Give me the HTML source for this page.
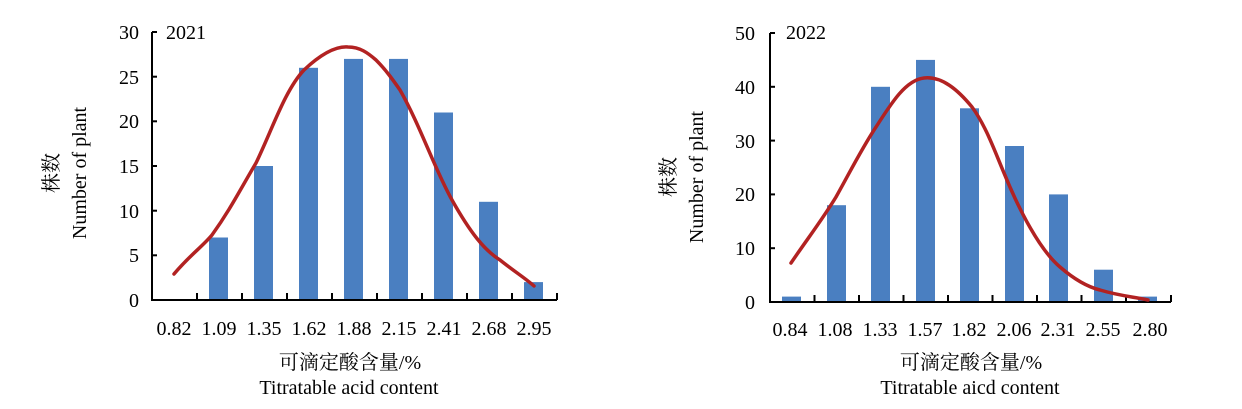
<!DOCTYPE html>
<html><head><meta charset="utf-8"><style>body{margin:0;background:#fff}svg{display:block}</style></head><body>
<svg width="1242" height="409" xmlns="http://www.w3.org/2000/svg" font-family="'Liberation Serif','Noto Serif CJK SC',serif" font-size="20" fill="#000">
<!-- Chart 1 -->
<g>
<g fill="#4a7fc1">
<rect x="209" y="237.5" width="19" height="62.5"/>
<rect x="254" y="166" width="19" height="134"/>
<rect x="299" y="67.8" width="19" height="232.2"/>
<rect x="344" y="58.9" width="19" height="241.1"/>
<rect x="389" y="58.9" width="19" height="241.1"/>
<rect x="434" y="112.5" width="19" height="187.5"/>
<rect x="479" y="201.8" width="19" height="98.2"/>
<rect x="524" y="282.1" width="19" height="17.9"/>
</g>
<path d="M152,32 V300 H557" fill="none" stroke="#000" stroke-width="2"/>
<g stroke="#000" stroke-width="2">
<line x1="152" y1="32" x2="157" y2="32"/><line x1="152" y1="76.7" x2="157" y2="76.7"/><line x1="152" y1="121.3" x2="157" y2="121.3"/><line x1="152" y1="166" x2="157" y2="166"/><line x1="152" y1="210.7" x2="157" y2="210.7"/><line x1="152" y1="255.3" x2="157" y2="255.3"/>
<line x1="197" y1="293" x2="197" y2="300"/><line x1="242" y1="293" x2="242" y2="300"/><line x1="287" y1="293" x2="287" y2="300"/><line x1="332" y1="293" x2="332" y2="300"/><line x1="377" y1="293" x2="377" y2="300"/><line x1="422" y1="293" x2="422" y2="300"/><line x1="467" y1="293" x2="467" y2="300"/><line x1="512" y1="293" x2="512" y2="300"/><line x1="557" y1="293" x2="557" y2="300"/>
</g>
<path d="M174,274 C190,255 202,247 212,235 C230,210 240,190 256,163 C272,130 285,90 304,70 C320,55 335,46 348,47 C360,47 368,53 376,60 C386,70 393,80 400,90 C420,125 435,170 452,200 C470,232 484,250 500,260 C515,272 525,278 534,286" fill="none" stroke="#b22222" stroke-width="3.5" stroke-linecap="round"/>
<g text-anchor="end"><text x="139" y="39">30</text><text x="139" y="84">25</text><text x="139" y="128">20</text><text x="139" y="173">15</text><text x="139" y="218">10</text><text x="139" y="262">5</text><text x="139" y="307">0</text></g>
<text x="166" y="39">2021</text>
<g text-anchor="middle"><text x="174" y="335">0.82</text><text x="219" y="335">1.09</text><text x="264" y="335">1.35</text><text x="309" y="335">1.62</text><text x="354" y="335">1.88</text><text x="399" y="335">2.15</text><text x="444" y="335">2.41</text><text x="489" y="335">2.68</text><text x="534" y="335">2.95</text>
<text x="350" y="369">可滴定酸含量/%</text><text x="349" y="394">Titratable acid content</text>
<text transform="translate(58,173) rotate(-90)">株数</text>
<text transform="translate(86,173) rotate(-90)">Number of plant</text></g>
</g>
<!-- Chart 2 -->
<g>
<g fill="#4a7fc1">
<rect x="782" y="296.6" width="19" height="5.4"/>
<rect x="827" y="205.2" width="19" height="96.8"/>
<rect x="871" y="86.8" width="19" height="215.2"/>
<rect x="916" y="59.9" width="19" height="242.1"/>
<rect x="960" y="108.3" width="19" height="193.7"/>
<rect x="1005" y="146" width="19" height="156"/>
<rect x="1049" y="194.4" width="19" height="107.6"/>
<rect x="1094" y="269.7" width="19" height="32.3"/>
<rect x="1138" y="296.6" width="19" height="5.4"/>
</g>
<path d="M770,33 V302 H1171" fill="none" stroke="#000" stroke-width="2"/>
<g stroke="#000" stroke-width="2">
<line x1="770" y1="33" x2="775" y2="33"/><line x1="770" y1="86.8" x2="775" y2="86.8"/><line x1="770" y1="140.6" x2="775" y2="140.6"/><line x1="770" y1="194.4" x2="775" y2="194.4"/><line x1="770" y1="248.2" x2="775" y2="248.2"/>
<line x1="814.5" y1="295" x2="814.5" y2="302"/><line x1="859" y1="295" x2="859" y2="302"/><line x1="903.5" y1="295" x2="903.5" y2="302"/><line x1="948" y1="295" x2="948" y2="302"/><line x1="992.5" y1="295" x2="992.5" y2="302"/><line x1="1037" y1="295" x2="1037" y2="302"/><line x1="1081.5" y1="295" x2="1081.5" y2="302"/><line x1="1126" y1="295" x2="1126" y2="302"/><line x1="1171" y1="295" x2="1171" y2="302"/>
</g>
<path d="M791,263 C808,238 822,220 836,197 C850,172 862,148 876,127 C892,102 906,80 924,78 C942,76 958,90 972,107 C986,126 995,152 1004,173 C1020,212 1040,250 1060,267 C1075,280 1088,287 1100,290 C1120,296 1135,297 1148,300" fill="none" stroke="#b22222" stroke-width="3.5" stroke-linecap="round"/>
<g text-anchor="end"><text x="755" y="40">50</text><text x="755" y="94">40</text><text x="755" y="148">30</text><text x="755" y="201">20</text><text x="755" y="255">10</text><text x="755" y="309">0</text></g>
<text x="786" y="39">2022</text>
<g text-anchor="middle"><text x="790" y="336">0.84</text><text x="835" y="336">1.08</text><text x="880" y="336">1.33</text><text x="925" y="336">1.57</text><text x="969" y="336">1.82</text><text x="1014" y="336">2.06</text><text x="1058" y="336">2.31</text><text x="1103" y="336">2.55</text><text x="1150" y="336">2.80</text>
<text x="971" y="369">可滴定酸含量/%</text><text x="970" y="394">Titratable aicd content</text>
<text transform="translate(675,177) rotate(-90)">株数</text>
<text transform="translate(703,177) rotate(-90)">Number of plant</text></g>
</g>
</svg>
</body></html>
